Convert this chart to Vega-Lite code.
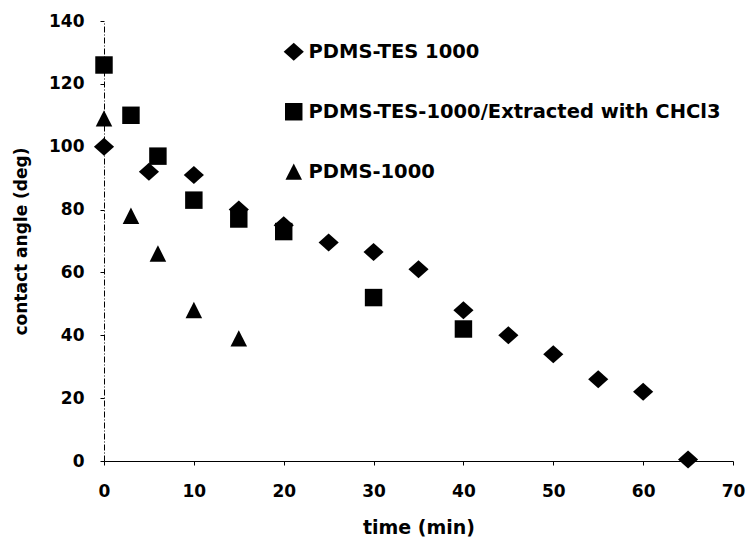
{
  "$schema": "https://vega.github.io/schema/vega-lite/v6.json",
  "width": 629,
  "height": 440,
  "autosize": "none",
  "padding": {"left": 104, "top": 21, "right": 18, "bottom": 81},
  "background": "white",
  "config": {
    "view": {"stroke": null},
    "font": "DejaVu Sans"
  },
  "data": {
    "values": [
      {"series": "PDMS-TES 1000", "time": 0, "angle": 100},
      {"series": "PDMS-TES 1000", "time": 5, "angle": 92},
      {"series": "PDMS-TES 1000", "time": 10, "angle": 91},
      {"series": "PDMS-TES 1000", "time": 15, "angle": 80},
      {"series": "PDMS-TES 1000", "time": 20, "angle": 75},
      {"series": "PDMS-TES 1000", "time": 25, "angle": 69.5},
      {"series": "PDMS-TES 1000", "time": 30, "angle": 66.5},
      {"series": "PDMS-TES 1000", "time": 35, "angle": 61},
      {"series": "PDMS-TES 1000", "time": 40, "angle": 48},
      {"series": "PDMS-TES 1000", "time": 45, "angle": 40},
      {"series": "PDMS-TES 1000", "time": 50, "angle": 34},
      {"series": "PDMS-TES 1000", "time": 55, "angle": 26},
      {"series": "PDMS-TES 1000", "time": 60, "angle": 22},
      {"series": "PDMS-TES 1000", "time": 65, "angle": 0.5},
      {"series": "PDMS-TES-1000/Extracted with CHCl3", "time": 0, "angle": 126},
      {"series": "PDMS-TES-1000/Extracted with CHCl3", "time": 3, "angle": 110},
      {"series": "PDMS-TES-1000/Extracted with CHCl3", "time": 6, "angle": 97},
      {"series": "PDMS-TES-1000/Extracted with CHCl3", "time": 10, "angle": 83},
      {"series": "PDMS-TES-1000/Extracted with CHCl3", "time": 15, "angle": 77},
      {"series": "PDMS-TES-1000/Extracted with CHCl3", "time": 20, "angle": 73},
      {"series": "PDMS-TES-1000/Extracted with CHCl3", "time": 30, "angle": 52},
      {"series": "PDMS-TES-1000/Extracted with CHCl3", "time": 40, "angle": 42},
      {"series": "PDMS-1000", "time": 0, "angle": 109},
      {"series": "PDMS-1000", "time": 3, "angle": 78},
      {"series": "PDMS-1000", "time": 6, "angle": 66},
      {"series": "PDMS-1000", "time": 10, "angle": 48},
      {"series": "PDMS-1000", "time": 15, "angle": 39}
    ]
  },
  "mark": {"type": "point", "filled": true, "opacity": 1, "size": 324, "strokeWidth": 0},
  "encoding": {
    "x": {
      "field": "time", "type": "quantitative",
      "scale": {"domain": [0, 70], "nice": false, "zero": true},
      "axis": {
        "title": "time (min)", "values": [0,10,20,30,40,50,60,70],
        "grid": false, "domainColor": "black", "domainWidth": 1.2,
        "tickColor": "black", "tickSize": 4,
        "labelFont": "DejaVu Sans", "labelFontSize": 17, "labelFontWeight": "bold", "labelColor": "black",
        "labelPadding": 18, "labelFlush": false,
        "titleFont": "DejaVu Sans", "titleFontSize": 19, "titleFontWeight": "bold", "titleColor": "black",
        "titlePadding": 19
      }
    },
    "y": {
      "field": "angle", "type": "quantitative",
      "scale": {"domain": [0, 140], "nice": false},
      "axis": {
        "title": "contact angle (deg)", "values": [0,20,40,60,80,100,120,140],
        "grid": false, "domainColor": "black", "domainWidth": 1, "domainDash": [6, 2, 1, 2],
        "tickColor": "black", "tickSize": 4,
        "labelFont": "DejaVu Sans", "labelFontSize": 17, "labelFontWeight": "bold", "labelColor": "black",
        "labelPadding": 16, "labelFlush": false,
        "titleFont": "DejaVu Sans", "titleFontSize": 17, "titleFontWeight": "bold", "titleColor": "black",
        "titlePadding": 18
      }
    },
    "shape": {
      "field": "series", "type": "nominal",
      "scale": {
        "domain": ["PDMS-TES 1000", "PDMS-TES-1000/Extracted with CHCl3", "PDMS-1000"],
        "range": ["M-1.12,0L0,-1L1.12,0L0,1Z", "M-0.97,-0.97L0.97,-0.97L0.97,0.97L-0.97,0.97Z", "M-0.92,0.9L0,-0.92L0.92,0.9Z"]
      },
      "legend": {
        "title": null, "orient": "none", "legendX": 180, "legendY": 21,
        "direction": "vertical",
        "symbolSize": 324, "symbolFillColor": "black", "symbolStrokeColor": "black", "symbolStrokeWidth": 0,
        "labelFont": "DejaVu Sans", "labelFontSize": 19.5, "labelFontWeight": "bold", "labelColor": "black",
        "labelOffset": 5, "rowPadding": 39, "labelLimit": 500
      }
    },
    "color": {"value": "black"}
  }
}
